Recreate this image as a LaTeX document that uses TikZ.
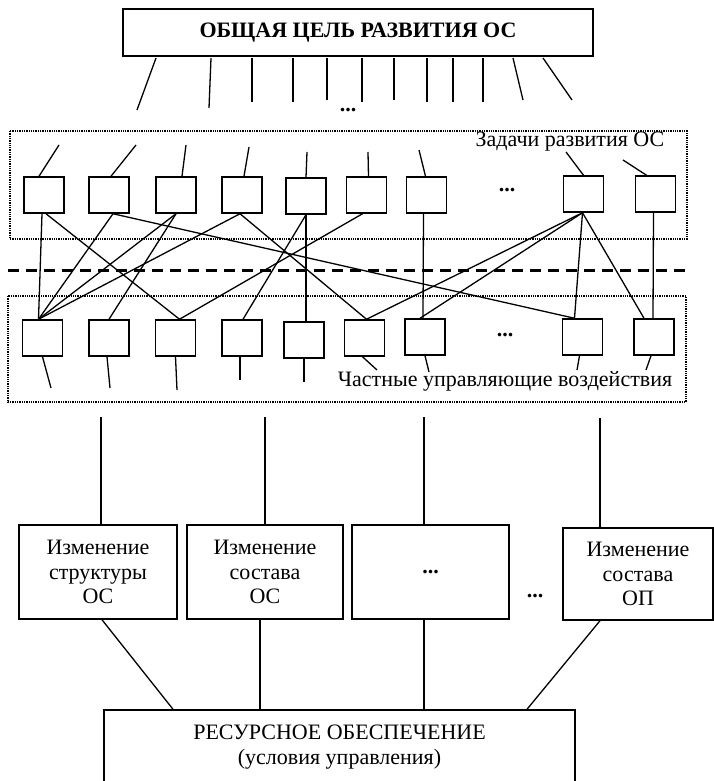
\documentclass[tikz,border=0pt]{standalone}
\usepackage{fontspec}
\setmainfont{Liberation Serif}

\begin{document}
\begin{tikzpicture}[x=1pt,y=-1pt,
    conn/.style={line width=1.3pt},
    cell/.style={draw,line width=1.5pt,minimum width=40pt,minimum height=36pt,inner sep=0pt},
    bigbox/.style={draw,line width=1.5pt,inner sep=0pt,align=center,
      font=\fontsize{22}{24.5}\selectfont},
    frame/.style={line width=2pt,dash pattern=on 1.3pt off 1pt},
    lbl/.style={inner sep=0pt,font=\fontsize{22}{24}\selectfont},
    dots/.style={inner sep=0pt,font=\fontsize{22}{24}\selectfont\bfseries}]
        % Page size
        \useasboundingbox (0,0) rectangle (714,781);

        % Overall goal
        \node[bigbox, minimum width=470pt, minimum height=47pt,
              font=\fontsize{22}{24}\selectfont\bfseries] (goal) at (358,32.5)
              {ОБЩАЯ ЦЕЛЬ РАЗВИТИЯ ОС};
        \foreach \i/\xa/\xb/\yb in {1/156/137/110, 2/211/209/108, 3/252/252/102,
            4/293/293/102, 5/327/327/100, 6/362/362/102, 7/394/394/100,
            8/427/427/102, 9/453/453/102, 10/483/483/102, 11/513/523/100,
            12/543/572/100} {
          \coordinate (ga\i) at (\xa,58);
          \coordinate (gb\i) at (\xb,\yb);
          \draw[conn] (ga\i) -- (gb\i);
        }
        \node[dots] (gdots) at (348,110) {...};

        % Frames and the dashed divider
        \draw[frame] (10,131) rectangle (687,239);
        \draw[frame] (8,296) rectangle (686,402);
        \draw[line width=3pt, dash pattern=on 11pt off 7pt] (8,270) -- (692,270);

        % Tasks (upper row)
        \foreach \n/\x/\y in {1/44/195, 2/109/195, 3/176/195, 4/242/195, 5/306/196,
            6/366.5/195, 7/426.5/195, 8/583.5/194, 9/655.5/194}
          \node[cell] (u\n) at (\x,\y) {};
        \node[dots] (udots) at (507,190) {...};
        \node[lbl] (tasks) at (570,142) {Задачи развития ОС};
        \foreach \n/\d/\x/\y in {1/-5/59/145, 2/2/136/145, 3/6/186/145, 4/2/249/147,
            5/0/307/152, 6/2/368/152, 7/-1/419/150, 8/0/566/152, 9/-9/623/160} {
          \coordinate (ut\n) at (\x,\y);
          \draw[conn] ([xshift=\d pt]u\n.north) -- (ut\n);
        }

        % Partial control actions (lower row)
        \foreach \n/\x/\y in {1/42.5/338, 2/109/338, 3/175.5/338, 4/242/338, 5/304/340,
            6/364.5/338, 7/425/337, 8/582.5/337, 9/654/337}
          \node[cell] (l\n) at (\x,\y) {};
        \node[dots] (ldots) at (505,335) {...};
        \node[lbl] (acts) at (505,381) {Частные управляющие воздействия};
        \foreach \n/\d/\x/\y in {1/0/51/388, 2/-2/110/388, 3/0/177/390, 4/-2/240/380,
            5/0/304/382, 6/-2/377/370, 7/0/429/372, 8/-3/577/370, 9/-3/646/370} {
          \coordinate (lb\n) at (\x,\y);
          \draw[conn] ([xshift=\d pt]l\n.south) -- (lb\n);
        }

        % Links between tasks and actions
        \foreach \a/\da/\b/\db in {1/-2/1/-4, 1/2/3/4, 2/4/1/-4, 2/4/8/-8, 3/0/1/-4,
            3/0/2/0, 4/-2/1/-4, 4/-2/6/2, 5/0/5/2, 5/0/4/1, 6/-4/3/4, 7/-3/7/-2,
            8/-1/6/2, 8/-1/7/-5, 8/-1/8/-8, 8/-1/9/-10, 9/-2/9/-1}
          \draw[conn] ([xshift=\da pt]u\a.south) -- ([xshift=\db pt]l\b.north);

        % Kinds of change
        \node[bigbox, minimum width=158pt, minimum height=94pt] (ch1) at (98,572)
              {Изменение\\структуры\\ОС};
        \node[bigbox, minimum width=156pt, minimum height=94pt] (ch2) at (265,572)
              {Изменение\\состава\\ОС};
        \node[bigbox, minimum width=157pt, minimum height=94pt,
              font=\fontsize{22}{24}\selectfont\bfseries] (ch3) at (430.5,572) {...};
        \node[bigbox, minimum width=150pt, minimum height=92pt] (ch4) at (638,574)
              {Изменение\\состава\\ОП};
        \node[dots] (chdots) at (535,596) {...};
        \foreach \i/\x/\y in {1/101/417, 2/265/417, 3/424/417, 4/600/418} {
          \coordinate (c\i) at (\x,\y);
          \draw[conn] (c\i) -- (c\i |- ch\i.north);
        }

        % Resources
        \node[bigbox, minimum width=471pt, minimum height=74pt] (res) at (339.5,747)
              {РЕСУРСНОЕ ОБЕСПЕЧЕНИЕ\\(условия управления)};
        \draw[conn] ([xshift=4pt]ch1.south) -- ([xshift=-166.5pt]res.north);
        \draw[conn] ([xshift=-5pt]ch2.south) -- ([xshift=-79.5pt]res.north);
        \draw[conn] ([xshift=-6.5pt]ch3.south) -- ([xshift=84.5pt]res.north);
        \draw[conn] ([xshift=-38pt]ch4.south) -- ([xshift=187.5pt]res.north);
      \end{tikzpicture}
\end{document}
